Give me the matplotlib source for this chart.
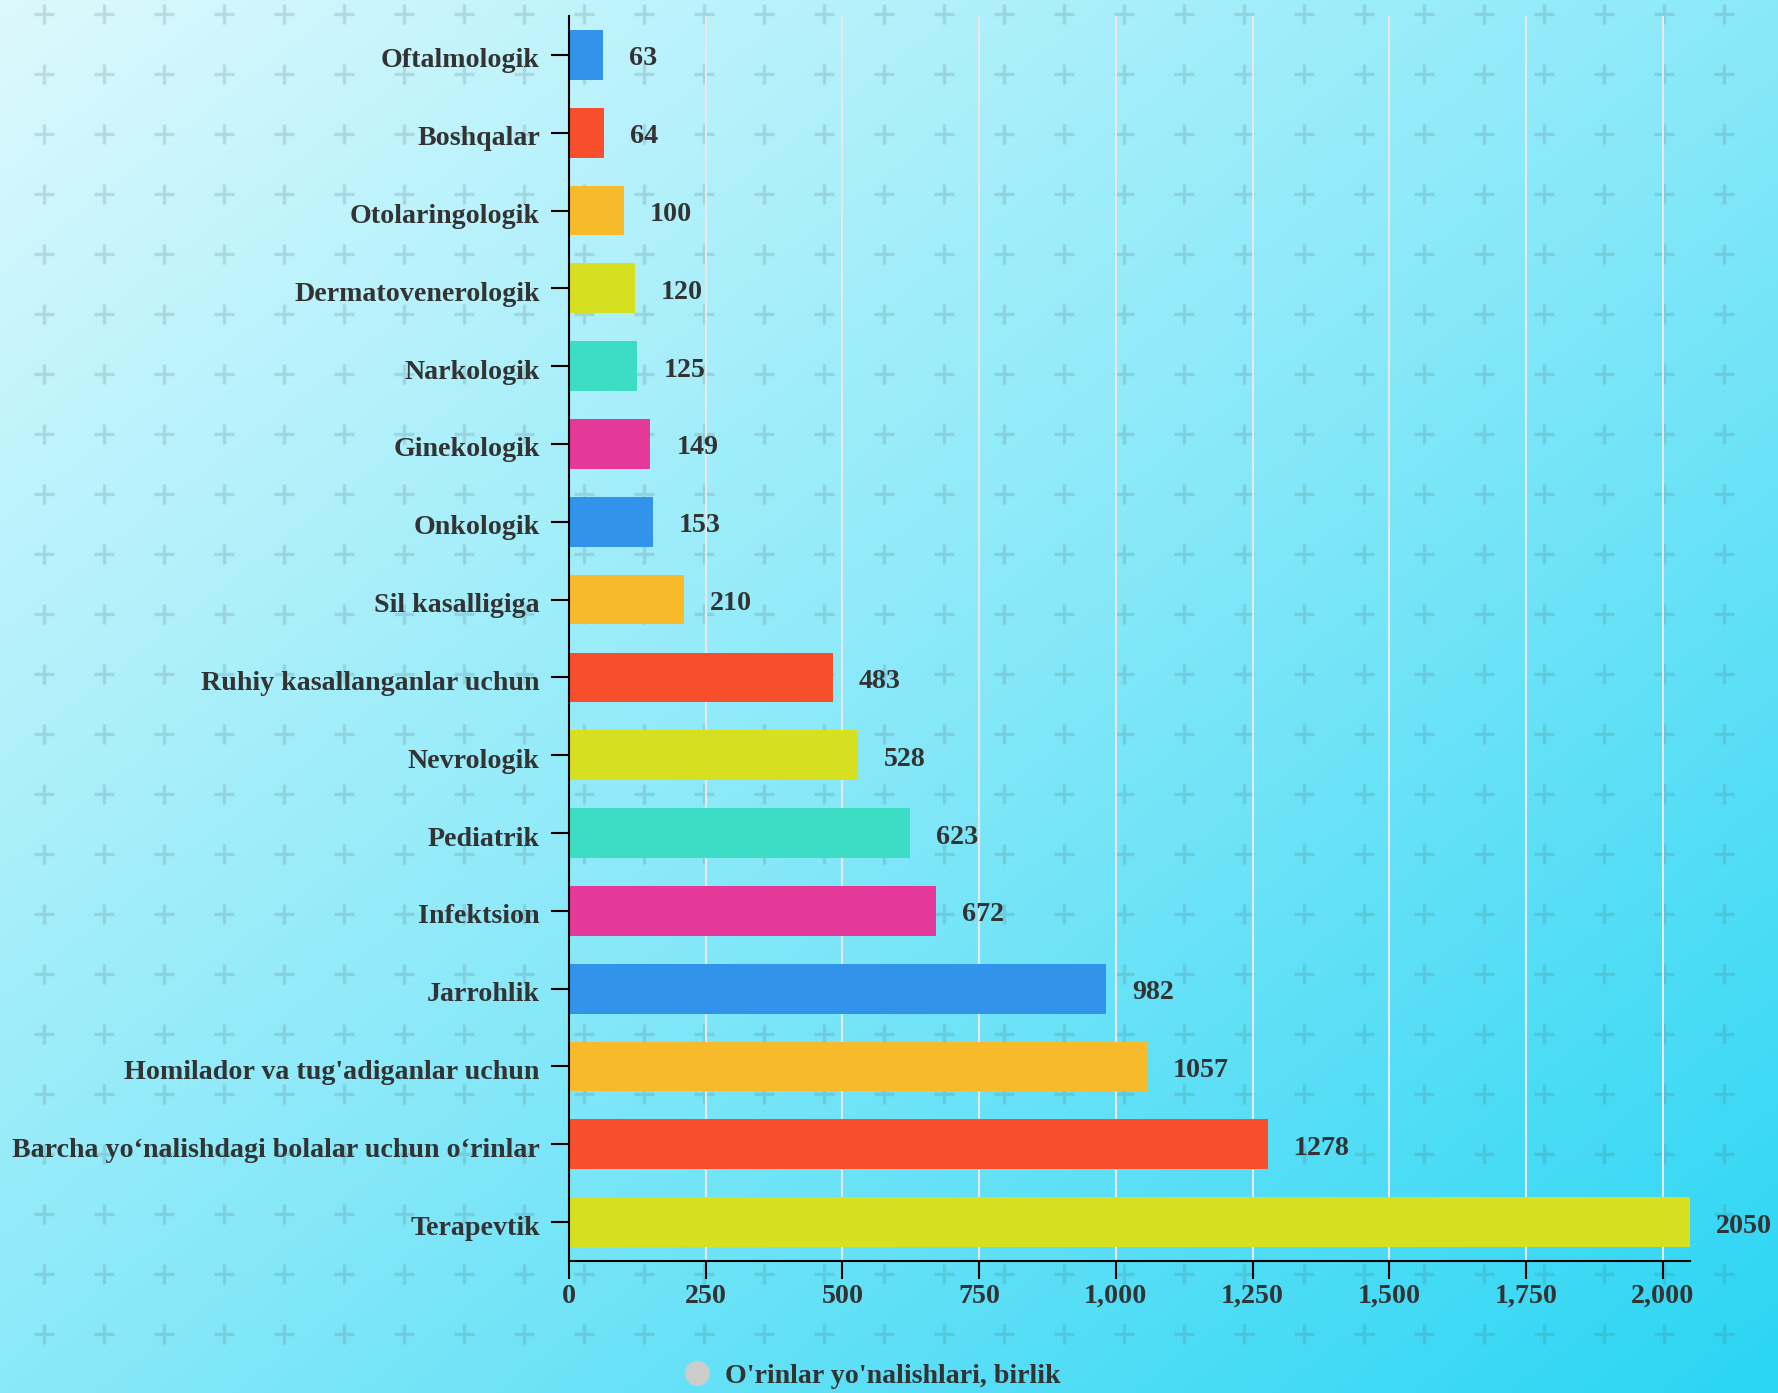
import numpy as np
import matplotlib
matplotlib.use('Agg')
from matplotlib import pyplot as plt
from matplotlib.colors import LinearSegmentedColormap
from matplotlib.lines import Line2D
from matplotlib.ticker import FuncFormatter
from matplotlib.transforms import ScaledTranslation

categories = ['Oftalmologik', 'Boshqalar', 'Otolaringologik', 'Dermatovenerologik',
              'Narkologik', 'Ginekologik', 'Onkologik', 'Sil kasalligiga',
              'Ruhiy kasallanganlar uchun', 'Nevrologik', 'Pediatrik', 'Infektsion',
              'Jarrohlik', "Homilador va tug'adiganlar uchun",
              'Barcha yo\u2018nalishdagi bolalar uchun o\u2018rinlar', 'Terapevtik']
values = [63, 64, 100, 120, 125, 149, 153, 210, 483, 528, 623, 672, 982, 1057, 1278, 2050]
bar_colors = ['#3193ea', '#f74f2b', '#f7ba2b', '#d6e021', '#3ddcc4', '#e53999',
              '#3193ea', '#f7ba2b', '#f74f2b', '#d6e021', '#3ddcc4', '#e53999',
              '#3193ea', '#f7ba2b', '#f74f2b', '#d6e021']
x_ticks = [0, 250, 500, 750, 1000, 1250, 1500, 1750, 2000]
legend_label = "O'rinlar yo'nalishlari, birlik"

plt.rcParams['font.family'] = ['Liberation Serif', 'DejaVu Serif']
plt.rcParams['font.weight'] = 'bold'
txt = '#333333'
fs = 20.2

W, H = 1778, 1393
fig = plt.figure(figsize=(W / 100, H / 100), dpi=100)

# background: diagonal gradient with faint plus pattern
bg = fig.add_axes([0, 0, 1, 1])
gx, gy = np.meshgrid(np.linspace(0, 1, 400), np.linspace(0, 1, 320))
grad = (gx + gy) / 2
cmap = LinearSegmentedColormap.from_list('bg', ['#dcf9fd', '#8ae9f9', '#2ad5f4'])
bg.imshow(grad, cmap=cmap, extent=[0, W, H, 0], aspect='auto', interpolation='bilinear')
px, py = np.meshgrid(np.arange(44, W, 60), np.arange(14, H, 60))
bg.scatter(px.ravel(), py.ravel(), marker='+', s=14.5 ** 2, linewidths=2.4,
           color='#50707a', alpha=0.2)
bg.set_xlim(0, W)
bg.set_ylim(H, 0)
bg.axis('off')

ax = fig.add_axes([569 / W, 1 - 1261 / H, (1690 - 569) / W, (1261 - 16) / H])
ax.set_facecolor('none')
pos = np.arange(len(categories))
ax.barh(pos, values, height=0.64, color=bar_colors, zorder=3)
for p, v in zip(pos, values):
    ax.annotate(str(v), xy=(v, p), xytext=(26, -4), textcoords='offset pixels',
                va='center', ha='left', fontsize=fs, fontweight='bold', color=txt)

ax.set_yticks(pos)
ax.set_yticklabels(categories)
ax.set_ylim(len(categories) - 0.5, -0.5)
ax.set_xlim(0, 2050)
ax.set_xticks(x_ticks)
ax.xaxis.set_major_formatter(FuncFormatter(lambda v, _: '{:,.0f}'.format(v)))
ax.grid(axis='x', color='#e8e8e8', linewidth=1.5, zorder=1)
ax.set_axisbelow(True)
for s in ['top', 'right']:
    ax.spines[s].set_visible(False)
for s in ['left', 'bottom']:
    ax.spines[s].set_color('black')
    ax.spines[s].set_linewidth(1.5)
    ax.spines[s].set_zorder(4)
ax.tick_params(axis='both', length=13, width=1.5, color='black', labelsize=fs,
               labelcolor=txt)
ax.tick_params(axis='y', pad=8)
ax.tick_params(axis='x', pad=3.5)
shift = ScaledTranslation(0, -3 / 100, fig.dpi_scale_trans)
for lab in ax.get_yticklabels():
    lab.set_transform(lab.get_transform() + shift)

ax.legend(handles=[Line2D([0], [0], marker='o', linestyle='none', markersize=17,
                          markerfacecolor='#cccccc', markeredgecolor='#cccccc')],
          labels=[legend_label], loc='center', bbox_to_anchor=(0.4865, 0.012),
          bbox_transform=fig.transFigure, frameon=False, handletextpad=0.0,
          fontsize=fs, labelcolor=txt)

fig.savefig('out.png', dpi=100)
